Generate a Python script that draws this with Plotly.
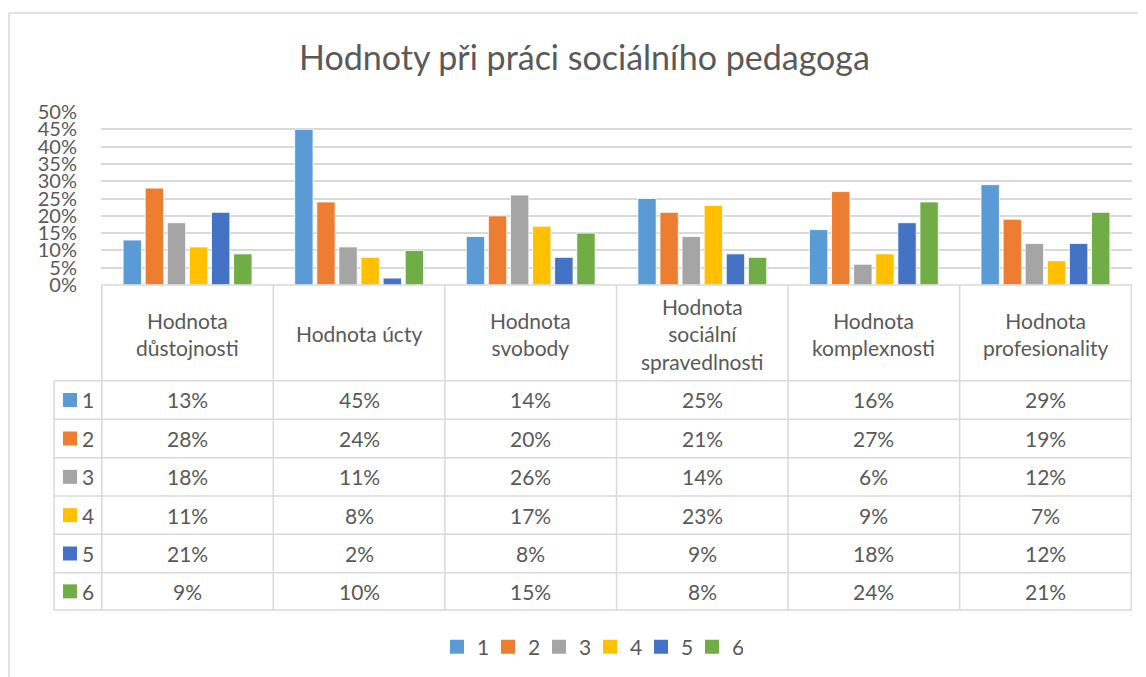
import plotly.graph_objects as go

categories = ["Hodnota důstojnosti", "Hodnota úcty", "Hodnota svobody",
              "Hodnota sociální spravedlnosti", "Hodnota komplexnosti",
              "Hodnota profesionality"]
header_labels = ["Hodnota<br>důstojnosti", "Hodnota úcty", "Hodnota<br>svobody",
                 "Hodnota<br>sociální<br>spravedlnosti", "Hodnota<br>komplexnosti",
                 "Hodnota<br>profesionality"]
series_names = ["1", "2", "3", "4", "5", "6"]
s1 = [0.13, 0.45, 0.14, 0.25, 0.16, 0.29]
s2 = [0.28, 0.24, 0.20, 0.21, 0.27, 0.19]
s3 = [0.18, 0.11, 0.26, 0.14, 0.06, 0.12]
s4 = [0.11, 0.08, 0.17, 0.23, 0.09, 0.07]
s5 = [0.21, 0.02, 0.08, 0.09, 0.18, 0.12]
s6 = [0.09, 0.10, 0.15, 0.08, 0.24, 0.21]
series_values = [s1, s2, s3, s4, s5, s6]
colors = ["#5B9BD5", "#ED7D31", "#A5A5A5", "#FFC000", "#4472C4", "#70AD47"]
title_text = "Hodnoty při práci sociálního pedagoga"

# page body has an 8px margin; figure is sized to fit the window
OFF = 8
FW, FH = 1146 - OFF, 677 - OFF
FONT = "Lato"
TXT = "#595959"
GRID = "#D9D9D9"

def px(x):
    return (x - OFF) / FW

def py(y):
    return 1 - (y - OFF) / FH

plot_left, plot_right = 101, 1132
plot_top, plot_bottom = 112, 285
table_left = 54
row_edges = [285, 380.7, 419.3, 457.7, 496, 534.3, 572.7, 610]

fig = go.Figure()
for name, vals, col in zip(series_names, series_values, colors):
    fig.add_trace(go.Bar(
        x=categories, y=vals, name=name, legendgroup=name, showlegend=False,
        marker=dict(color=col, line=dict(color="white", width=0.8)),
    ))
# legend entries with square keys
for name, col in zip(series_names, colors):
    fig.add_trace(go.Scatter(
        x=[None], y=[None], mode="markers", name=name, legendgroup=name,
        marker=dict(symbol="square", size=14, color=col),
    ))

shapes = []
line_style = dict(color=GRID, width=1.5)
# outer chart border (left and top)
shapes.append(dict(type="line", xref="paper", yref="paper",
                   x0=px(9), x1=px(9), y0=py(13), y1=0, line=line_style))
shapes.append(dict(type="line", xref="paper", yref="paper",
                   x0=px(9), x1=1, y0=py(13), y1=py(13), line=line_style))
# table horizontal lines
shapes.append(dict(type="line", xref="paper", yref="paper",
                   x0=px(plot_left), x1=px(plot_right), y0=py(row_edges[0]), y1=py(row_edges[0]),
                   line=line_style))
for ye in row_edges[1:]:
    shapes.append(dict(type="line", xref="paper", yref="paper",
                       x0=px(table_left), x1=px(plot_right), y0=py(ye), y1=py(ye),
                       line=line_style))
# table vertical lines (aligned with category axis)
for i in range(len(categories) + 1):
    shapes.append(dict(type="line", xref="x", yref="paper",
                       x0=i - 0.5, x1=i - 0.5, y0=py(row_edges[0]), y1=py(row_edges[-1]),
                       line=line_style))
shapes.append(dict(type="line", xref="paper", yref="paper",
                   x0=px(table_left), x1=px(table_left), y0=py(row_edges[1]), y1=py(row_edges[-1]),
                   line=line_style))

annotations = []
# header labels
for i, lab in enumerate(header_labels):
    annotations.append(dict(x=i, xref="x", y=py((row_edges[0] + row_edges[1]) / 2 + 1), yref="paper",
                            text=lab, showarrow=False, xanchor="center", yanchor="middle",
                            font=dict(family=FONT, size=21, color=TXT)))
# values and key column
for r, (name, vals, col) in enumerate(zip(series_names, series_values, colors)):
    yc = (row_edges[r + 1] + row_edges[r + 2]) / 2
    for i, v in enumerate(vals):
        annotations.append(dict(x=i, xref="x", y=py(yc), yref="paper",
                                text=f"{round(v * 100)}%", showarrow=False,
                                xanchor="center", yanchor="middle",
                                font=dict(family=FONT, size=21, color=TXT)))
    shapes.append(dict(type="rect", xref="paper", yref="paper",
                       x0=px(63), x1=px(77), y0=py(yc - 7), y1=py(yc + 7),
                       fillcolor=col, line=dict(width=0)))
    annotations.append(dict(x=px(80), xref="paper", y=py(yc), yref="paper",
                            text=name, showarrow=False, xanchor="left", yanchor="middle",
                            font=dict(family=FONT, size=21, color=TXT)))

# title
annotations.append(dict(x=px(585), xref="paper", y=py(57), yref="paper",
                        text=title_text, showarrow=False, xanchor="center", yanchor="middle",
                        font=dict(family=FONT, size=34, color=TXT)))

fig.update_layout(
    width=FW, height=FH,
    margin=dict(l=0, r=0, t=0, b=0, pad=0, autoexpand=False),
    paper_bgcolor="white", plot_bgcolor="white",
    barmode="group", bargap=0.227, bargroupgap=0.17,
    font=dict(family=FONT, color=TXT),
    xaxis=dict(domain=[px(plot_left), px(plot_right)], showticklabels=False,
               showgrid=False, showline=False, zeroline=False, ticks="",
               automargin=False),
    yaxis=dict(domain=[py(plot_bottom), py(plot_top)], range=[0, 0.5],
               dtick=0.05, tick0=0, tickformat=".0%",
               showgrid=True, gridcolor=GRID, gridwidth=1.5,
               zeroline=False, showline=False, ticks="", automargin=False,
               ticklabelstandoff=23,
               tickfont=dict(family=FONT, size=20, color=TXT)),
    legend=dict(orientation="h", x=px(590), xanchor="center", y=py(647), yanchor="middle",
                font=dict(family=FONT, size=21, color=TXT), traceorder="normal",
                entrywidth=6, entrywidthmode="pixels", itemclick=False),
    shapes=shapes, annotations=annotations,
)

fig.write_html("out.html")
